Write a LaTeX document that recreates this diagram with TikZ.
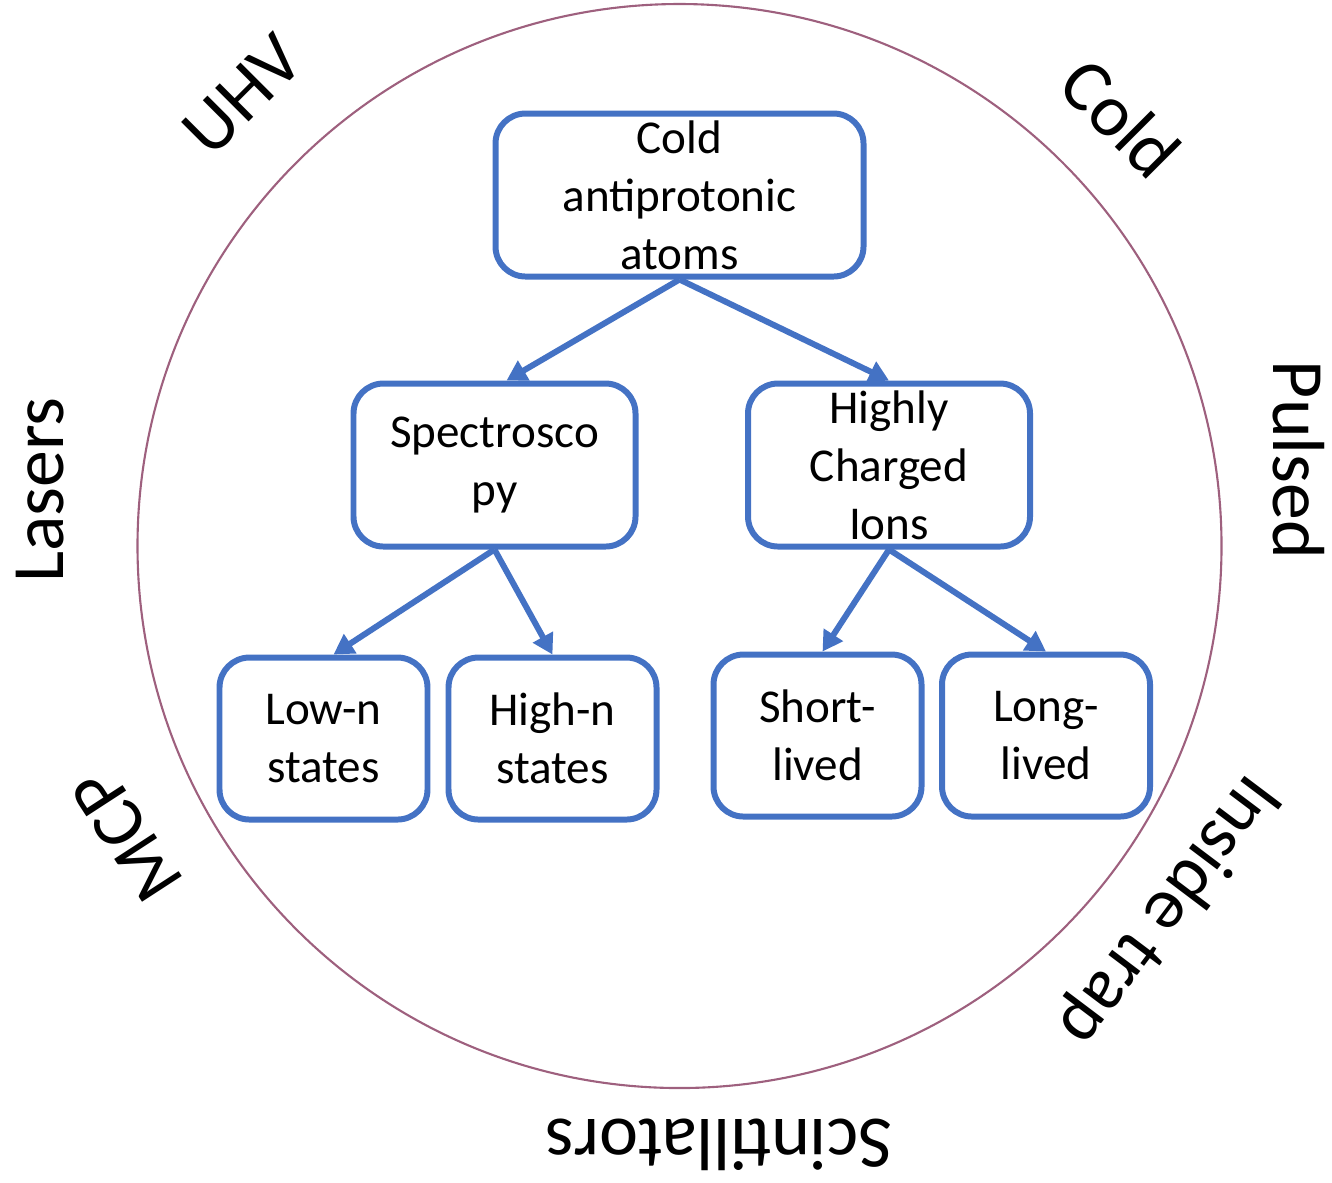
\documentclass[tikz,border=0pt]{standalone}
\usepackage{fontspec}
\setmainfont{Carlito}
\usetikzlibrary{arrows.meta}
\definecolor{boxblue}{RGB}{68,114,196}
\definecolor{ringcol}{RGB}{158,96,126}
\begin{document}
\begin{tikzpicture}[
>={Triangle[length=0.2cm,width=0.22cm]},
line/.style={draw,->,color=boxblue,line width=1.7pt},
ring/.style={draw,color=ringcol,line width=0.6pt},
topic/.style={draw=boxblue,line width=1.7pt,rounded corners=0.3cm,align=center,
  inner sep=0pt,font=\fontsize{13.4}{16.5}\selectfont},
big/.style={topic,minimum width=2.82cm,minimum height=1.63cm},
small/.style={topic,minimum width=2.08cm,minimum height=1.62cm},
tool/.style={font=\fontsize{21}{25}\selectfont},
]
\useasboundingbox (0,0) rectangle (13.32,-11.82);

\path[ring] (6.795,-5.46) circle (5.42cm);

\node[topic,minimum width=3.68cm,minimum height=1.63cm] (atoms) at (6.795,-1.95) {Cold\\antiprotonic\\atoms};

\node[big] (spec) at (4.945,-4.65) {Spectrosco\\py};
	\node[small] (lown) at (3.235,-7.385) {Low-n\\states};
	\node[small] (highn) at (5.525,-7.385) {High-n\\states};

\node[big] (hci) at (8.89,-4.65) {Highly\\Charged\\Ions};
	\node[small] (short) at (8.175,-7.355) {Short-\\lived};
	\node[small] (long) at (10.46,-7.355) {Long-\\lived};

\path[line] (atoms.south) -- ([xshift=0.12cm]spec.north);
\path[line] (atoms.south) -- (hci.north);
	\path[line] (spec.south) -- ([xshift=0.1cm]lown.north);
	\path[line] (spec.south) -- (highn.north);
	\path[line] (hci.south) -- ([xshift=0.05cm]short.north);
	\path[line] (hci.south) -- (long.north);

%tools
\node[tool,rotate=45] (uhv) at (2.43,-0.95) {UHV};
\node[tool,rotate=-45] (cold) at (11.21,-1.18) {Cold};
\node[tool,rotate=-90] (pulsed) at (12.99,-4.6) {Pulsed};
\node[tool,rotate=90] (lasers) at (0.4,-4.9) {Lasers};
\node[tool,rotate=123] (mcp) at (1.27,-8.35) {MCP};
\node[tool,rotate=233] (trap) at (11.68,-9.1) {Inside trap};
\node[tool,rotate=180] (scint) at (7.19,-11.45) {Scintillators};

\end{tikzpicture}
\end{document}
